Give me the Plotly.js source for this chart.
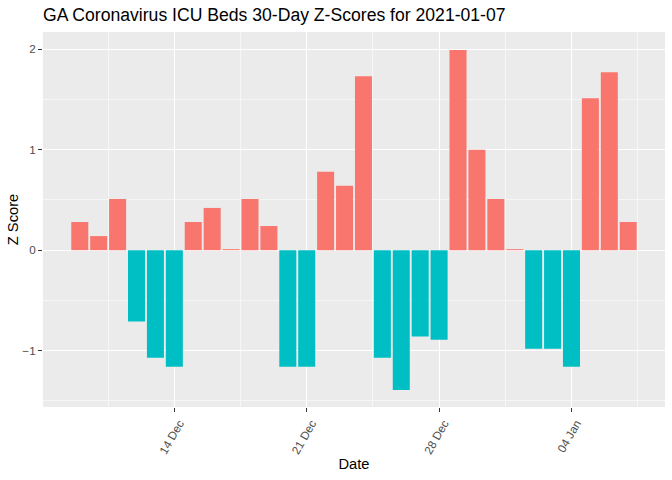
<!DOCTYPE html>
<html>
<head>
<meta charset="utf-8">
<script src="https://cdn.plot.ly/plotly-3.0.1.min.js"></script>
<style>html,body{margin:0;padding:0;background:#fff;}#chart{width:672px;height:480px;}</style>
</head>
<body>
<div id="chart"></div>
<script>
var dates = ['2020-12-09','2020-12-10','2020-12-11','2020-12-12','2020-12-13','2020-12-14','2020-12-15','2020-12-16','2020-12-17','2020-12-18','2020-12-19','2020-12-20','2020-12-21','2020-12-22','2020-12-23','2020-12-24','2020-12-25','2020-12-26','2020-12-27','2020-12-28','2020-12-29','2020-12-30','2020-12-31','2021-01-01','2021-01-02','2021-01-03','2021-01-04','2021-01-05','2021-01-06','2021-01-07'];
var zScores = [0.28,0.14,0.51,-0.71,-1.07,-1.16,0.28,0.42,0.01,0.51,0.24,-1.16,-1.16,0.78,0.64,1.73,-1.07,-1.39,-0.86,-0.89,1.99,1.00,0.51,0.01,-0.98,-0.98,-1.16,1.51,1.77,0.28];
var posColor = '#F8766D', negColor = '#00BFC4';

var DAY = 86400000;
function toStr(ms){ return new Date(ms).toISOString().replace('T',' ').replace('Z',''); }
var t0 = Date.parse(dates[0]+'T00:00:00Z'), t1 = Date.parse(dates[dates.length-1]+'T00:00:00Z');
var xr = [toStr(t0 - 1.945*DAY), toStr(t1 + 1.945*DAY)];

var trace = {
  type: 'bar',
  x: dates,
  y: zScores,
  width: 0.9*DAY,
  marker: {color: zScores.map(function(v){return v >= 0 ? posColor : negColor;}), line: {width: 0}},
  hoverinfo: 'x+y'
};

var layout = {
  width: 672, height: 480,
  margin: {l: 43, r: 7, t: 32, b: 73, pad: 0},
  paper_bgcolor: '#ffffff',
  plot_bgcolor: '#EBEBEB',
  font: {family: 'Liberation Sans, Arial, sans-serif', color: '#000'},
  showlegend: false,
  title: {text: 'GA Coronavirus ICU Beds 30-Day Z-Scores for 2021-01-07', x: 0, xref: 'paper', xanchor: 'left', y: 1 - 15/480, yref: 'container', yanchor: 'middle', font: {size: 17.6, color: '#000'}},
  xaxis: {
    type: 'date',
    range: xr,
    tick0: '2020-12-14', dtick: 7*DAY,
    tickformat: '%d %b',
    tickangle: -60,
    ticklabelshift: 5,
    ticks: 'outside', ticklen: 4, tickwidth: 1, tickcolor: '#333333',
    tickfont: {size: 11.7, color: '#4D4D4D'},
    showgrid: true, gridcolor: '#ffffff', gridwidth: 1.1,
    minor: {tick0: '2020-12-10 12:00', dtick: 3.5*DAY, showgrid: true, gridcolor: '#ffffff', gridwidth: 0.55, ticks: ''},
    zeroline: false, showline: false,
    title: {text: 'Date', font: {size: 14.7, color: '#000'}, standoff: 3}
  },
  yaxis: {
    range: [-1.56, 2.17],
    tick0: 0, dtick: 1,
    ticks: 'outside', ticklen: 4, tickwidth: 1, tickcolor: '#333333',
    tickfont: {size: 11.7, color: '#4D4D4D'},
    showgrid: true, gridcolor: '#ffffff', gridwidth: 1.1,
    minor: {dtick: 0.5, showgrid: true, gridcolor: '#ffffff', gridwidth: 0.55, ticks: ''},
    zeroline: false, showline: false,
    title: {text: 'Z Score', font: {size: 14.7, color: '#000'}, standoff: 0}
  }
};

Plotly.newPlot('chart', [trace], layout, {displayModeBar: false, staticPlot: true});
</script>
</body>
</html>
